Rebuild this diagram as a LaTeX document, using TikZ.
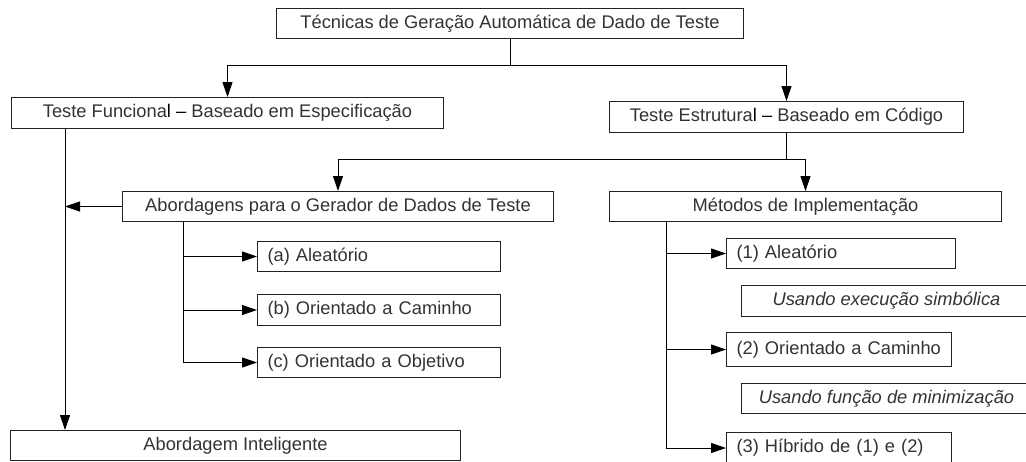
\documentclass[tikz,border=0pt]{standalone}
\usepackage{fontspec}
\setmainfont{Liberation Sans}
\usetikzlibrary{arrows.meta,calc}
\definecolor{texto}{HTML}{333333}
\definecolor{borda}{HTML}{222222}
\tikzset{
  caixa/.style={draw=borda, line width=1pt, fill=white, inner sep=0pt, anchor=north west,
    font=\fontsize{18.3}{22}\selectfont, text=texto},
  esq/.style={inner xsep=10pt, align=left},
  seta/.style={-{Triangle[length=15pt,width=10pt]}, line width=1pt},
  linha/.style={line width=1pt},
}
\begin{document}
\begin{tikzpicture}[x=1pt,y=-1pt]
  \useasboundingbox (0,0) rectangle (1026,461);
  \clip (0,0) rectangle (1026,461);
  % nivel 1 e 2
  \node[caixa, minimum width=467pt, minimum height=30pt] (topo) at (276,8) {Técnicas de Geração Automática de Dado de Teste};
  \node[caixa, minimum width=432pt, minimum height=31pt] (funcional) at (11,97) {Teste Funciona{\color{black}l –} Baseado em Especificação};
  \node[caixa, minimum width=354pt, minimum height=31pt] (estrutural) at (609,101) {Teste Estrutura{\color{black}l –} Baseado em Código};
  % nivel 3
  \node[caixa, minimum width=431pt, minimum height=30pt] (abordagens) at (122,191) {Abordagens para o Gerador de Dados de Teste};
  \node[caixa, minimum width=392pt, minimum height=30pt] (metodos) at (609,191) {Métodos de Implementação};
  \node[caixa, minimum width=450pt, minimum height=30pt] (inteligente) at (10,430) {Abordagem Inteligente};
  % abordagens
  \node[caixa, esq, text width=223pt, minimum height=30pt] (a) at (257,241) {(a) Aleatório};
  \node[caixa, esq, text width=223pt, minimum height=31pt] (b) at (257,294) {(b) Orientado a Caminho};
  \node[caixa, esq, text width=223pt, minimum height=30pt] (c) at (257,347) {(c) Orientado a Objetivo};
  % metodos
  \node[caixa, esq, text width=209pt, minimum height=30pt] (m1) at (726,238) {(1) Aleatório};
  \node[caixa, minimum width=290pt, minimum height=31pt, font=\fontsize{18.3}{22}\selectfont\itshape] (simb) at (741,285) {Usando execução simbólica};
  \node[caixa, esq, text width=205pt, minimum height=34pt] (m2) at (726,332) {(2) Orientado a Caminho};
  \node[caixa, minimum width=290pt, minimum height=30pt, font=\fontsize{18.3}{22}\selectfont\itshape] (minim) at (741,383) {Usando função de minimização};
  \node[caixa, esq, text width=205pt, minimum height=31pt] (m3) at (726,432) {(3) Híbrido de (1) e (2)};

  % ligacoes
  \draw[seta] (topo.south) -- ++(0,26) -| (funcional.north);
  \draw[seta] (topo.south) -- ++(0,26) -| (estrutural.north);
  \draw[seta] (estrutural.south) -- ++(0,26) -| (abordagens.north);
  \draw[seta] (estrutural.south) -- ++(0,26) -| (metodos.north);
  \coordinate (tronco) at ([xshift=54pt]funcional.south west);
  \draw[seta] (tronco) -- (tronco |- inteligente.north);
  \draw[seta] (abordagens.west) -- (abordagens.west -| tronco);
  \coordinate (ramo1) at ([xshift=61pt]abordagens.south west);
  \foreach \n in {a,b,c} {
      \draw[seta] (ramo1) |- (\n.west);
  }
  \coordinate (ramo2) at ([xshift=57pt]metodos.south west);
  \foreach \n in {m1,m2,m3} {
      \draw[seta] (ramo2) |- (\n.west);
  }
\end{tikzpicture}
\end{document}
